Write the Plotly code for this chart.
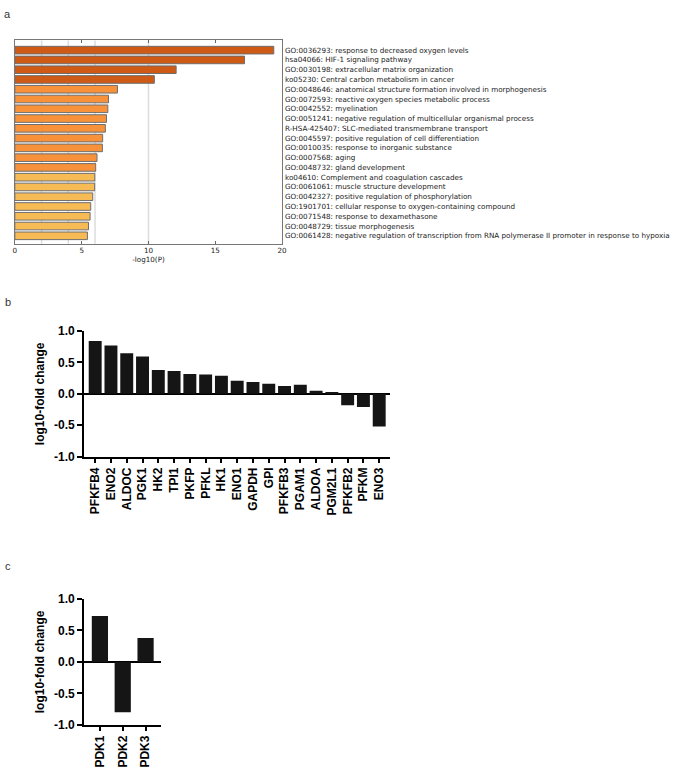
import plotly.graph_objects as go

# panel a: enrichment terms and -log10(P)
a_terms = [
    "GO:0036293: response to decreased oxygen levels",
    "hsa04066: HIF-1 signaling pathway",
    "GO:0030198: extracellular matrix organization",
    "ko05230: Central carbon metabolism in cancer",
    "GO:0048646: anatomical structure formation involved in morphogenesis",
    "GO:0072593: reactive oxygen species metabolic process",
    "GO:0042552: myelination",
    "GO:0051241: negative regulation of multicellular organismal process",
    "R-HSA-425407: SLC-mediated transmembrane transport",
    "GO:0045597: positive regulation of cell differentiation",
    "GO:0010035: response to inorganic substance",
    "GO:0007568: aging",
    "GO:0048732: gland development",
    "ko04610: Complement and coagulation cascades",
    "GO:0061061: muscle structure development",
    "GO:0042327: positive regulation of phosphorylation",
    "GO:1901701: cellular response to oxygen-containing compound",
    "GO:0071548: response to dexamethasone",
    "GO:0048729: tissue morphogenesis",
    "GO:0061428: negative regulation of transcription from RNA polymerase II promoter in response to hypoxia",
]
a_values = [19.38, 17.19, 12.07, 10.44, 7.68, 7.01, 6.96, 6.86, 6.77, 6.57,
            6.55, 6.15, 6.05, 5.98, 5.97, 5.83, 5.68, 5.63, 5.51, 5.43]
a_grid = [2, 4, 6, 10]
a_ticks = [0, 5, 10, 15, 20]

# panel b: glycolysis genes
b_genes = ["PFKFB4", "ENO2", "ALDOC", "PGK1", "HK2", "TPI1", "PKFP", "PFKL", "HK1",
           "ENO1", "GAPDH", "GPI", "PFKFB3", "PGAM1", "ALDOA", "PGM2L1", "PFKFB2",
           "PFKM", "ENO3"]
b_values = [0.84, 0.77, 0.646, 0.594, 0.38, 0.365, 0.318, 0.307, 0.29, 0.21,
            0.19, 0.16, 0.125, 0.146, 0.05, 0.02, -0.18, -0.21, -0.52]

# panel c: PDK genes
c_genes = ["PDK1", "PDK2", "PDK3"]
c_values = [0.73, -0.80, 0.38]

fc_ticks = [-1.0, -0.5, 0.0, 0.5, 1.0]
fc_ticktext = ["-1.0", "-0.5", "0.0", "0.5", "1.0"]

W, H = 675, 772


def px_x(a, b):
    return [a / W, b / W]


def px_y(top, bottom):
    return [1 - bottom / H, 1 - top / H]


a_colors = []
for i in range(len(a_values)):
    if i < 4:
        a_colors.append("#CF5A16")
    elif i < 13:
        a_colors.append("#F8923A")
    else:
        a_colors.append("#F7BB56")

BOLD = dict(family="Liberation Sans, Arial", size=12, color="black", weight="bold")
SMALL = dict(family="DejaVu Sans", size=7.2, color="#222")

fig = go.Figure()

fig.add_trace(go.Bar(
    x=a_values, y=a_terms, orientation="h", xaxis="x", yaxis="y",
    marker=dict(color=a_colors, line=dict(color="#6e6e6e", width=1)),
    width=0.78,
))
fig.add_trace(go.Bar(
    x=b_genes, y=b_values, xaxis="x2", yaxis="y2",
    marker=dict(color="#151515", line=dict(width=0)), width=0.82,
))
fig.add_trace(go.Bar(
    x=c_genes, y=c_values, xaxis="x3", yaxis="y3",
    marker=dict(color="#151515", line=dict(width=0)), width=0.71,
))

for g in a_grid:
    fig.add_shape(type="line", xref="x", yref="y domain", x0=g, x1=g, y0=0, y1=1,
                  line=dict(color="#dcdcdc", width=1.5), layer="below")

for term in a_terms:
    fig.add_annotation(x=1, xref="x domain", y=term, yref="y", text=term,
                       showarrow=False, xanchor="left", xshift=1, font=SMALL)

for lab, ypx in [("a", 7), ("b", 300), ("c", 569)]:
    fig.add_annotation(x=6 / W, y=1 - ypx / H, xref="paper", yref="paper", text=lab,
                       showarrow=False, xanchor="center", yanchor="middle",
                       font=dict(family="Liberation Sans, Arial", size=11, color="#333"))

fc_axis = dict(
    range=[-1, 1], tickvals=fc_ticks, ticktext=fc_ticktext, ticks="outside",
    ticklen=5, tickwidth=2, tickcolor="black", showline=True, linewidth=2,
    linecolor="black", showgrid=False, zeroline=True, zerolinewidth=2,
    zerolinecolor="black", tickfont=BOLD,
    title=dict(text="log10-fold change", font=BOLD, standoff=7),
)
cat_axis = dict(
    tickangle=-90, ticks="outside", ticklen=4, tickwidth=1.5, tickcolor="black",
    showline=True, linewidth=2, linecolor="black", showgrid=False, tickfont=BOLD,
)

fig.update_layout(
    width=W, height=H, margin=dict(l=0, r=0, t=0, b=0),
    paper_bgcolor="white", plot_bgcolor="white", showlegend=False,
    xaxis=dict(domain=px_x(13, 283), anchor="y", range=[0, 20], tickvals=a_ticks,
               ticks="inside", ticklen=3, tickcolor="#666", showline=True,
               linecolor="#777", linewidth=1, mirror="ticks", showgrid=False,
               zeroline=False, tickfont=SMALL,
               title=dict(text="-log10(P)", font=SMALL, standoff=2)),
    yaxis=dict(domain=px_y(34, 241), anchor="x", range=[19.8, -1.0],
               showticklabels=False, ticks="", showline=True, linecolor="#777",
               linewidth=1, mirror=True, showgrid=False),
    xaxis2=dict(domain=px_x(83, 392), anchor="y2", range=[-0.7, 18.68], **cat_axis),
    yaxis2=dict(domain=px_y(330, 458), anchor="x2", **fc_axis),
    xaxis3=dict(domain=px_x(83, 161), anchor="y3", range=[-0.69, 2.69], **cat_axis),
    yaxis3=dict(domain=px_y(603, 731), anchor="x3", **fc_axis),
)

fig.write_html(
    "out.html",
    config={"displayModeBar": False},
    post_script="document.body.style.margin='0';document.body.style.padding='0';",
)
